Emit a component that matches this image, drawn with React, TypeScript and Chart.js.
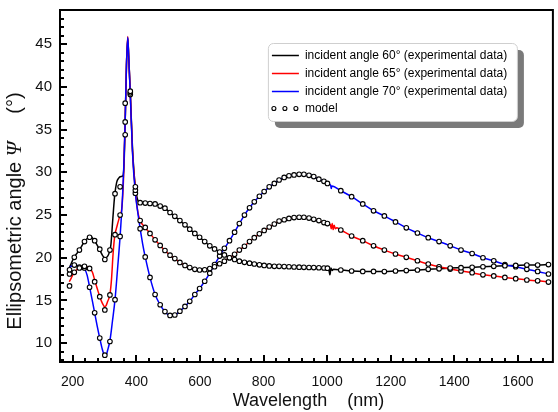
import React, { useEffect, useRef } from 'react';
import { Chart, registerables } from 'chart.js';

Chart.register(...registerables);

const FONT = 'Arial, "Liberation Sans", Helvetica, sans-serif';

// ---- axis ticks ----
const xTickValues = [200, 400, 600, 800, 1000, 1200, 1400, 1600];
const yTickValues = [10, 15, 20, 25, 30, 35, 40, 45];

// ---- legend labels ----
const seriesLabels = [
  'incident angle 60° (experimental data)',
  'incident angle 65° (experimental data)',
  'incident angle 70° (experimental data)',
];
const modelLabel = 'model';

// ---- model (open circles) ----
const modelWl = [
  190, 205, 221, 237, 253, 269, 285, 301, 317, 333, 349, 365, 381, 397,
  412, 428, 443, 459, 475, 490, 506, 521, 537, 553, 568, 584, 599, 615, 631, 646,
  662, 677, 693, 709, 724, 740, 756, 771, 787, 802, 818, 834, 849, 865, 880, 896,
  912, 927, 943, 958, 974, 990, 1001,
  1043, 1077, 1112, 1146, 1180, 1215, 1249, 1284, 1318, 1352, 1387, 1421, 1456,
  1490, 1524, 1559, 1593, 1628, 1662, 1696,
];
const model60 = [
  18.6, 20.05, 20.9, 21.9, 22.4, 22.0, 21.0, 19.8, 20.9, 27.5, 28.3, 38.1, 39.5, 28.3,
  26.45, 26.4, 26.35, 26.3, 26.05, 25.8, 25.3, 24.85, 24.35, 23.85, 23.35, 22.85, 22.4, 21.9, 21.4, 21.03,
  20.67, 20.33, 20.0, 19.8, 19.6, 19.47, 19.37, 19.27, 19.17, 19.1, 19.05, 19.0, 19.0, 18.97, 18.95, 18.92,
  18.9, 18.88, 18.86, 18.85, 18.83, 18.8, 18.78,
  18.57, 18.45, 18.4, 18.4, 18.38, 18.45, 18.5, 18.57, 18.65, 18.7, 18.8, 18.84, 18.88,
  18.95, 19.0, 19.07, 19.1, 19.15, 19.15, 19.2,
];
const model65 = [
  16.7, 18.3, 18.8, 19.0, 18.75, 17.2, 15.45, 13.9, 15.65, 22.7, 25.0, 35.9, 39.3, 27.9,
  24.35, 23.55, 22.85, 22.1, 21.45, 20.85, 20.3, 19.9, 19.45, 19.1, 18.85, 18.65, 18.57, 18.6, 18.73, 18.95,
  19.3, 19.6, 20.0, 20.4, 20.9, 21.35, 21.9, 22.35, 22.8, 23.2, 23.6, 23.95, 24.3, 24.45, 24.6, 24.7,
  24.74, 24.74, 24.64, 24.5, 24.35, 24.12, 24.0,
  23.25, 22.55, 22.0, 21.4, 20.9, 20.44, 20.05, 19.65, 19.27, 18.95, 18.68, 18.45, 18.25,
  18.0, 17.87, 17.7, 17.55, 17.4, 17.3, 17.16,
];
const model70 = [
  18.1, 19.15, 18.9, 18.8, 16.55, 13.55, 10.6, 8.6, 10.2, 15.1, 22.5, 34.4, 39.1, 27.55,
  23.4, 20.1, 17.7, 15.7, 14.5, 13.7, 13.25, 13.3, 13.75, 14.3, 14.9, 15.7, 16.4, 17.25, 18.2, 19.2,
  20.2, 21.1, 22.0, 23.0, 24.0, 25.0, 25.85, 26.55, 27.2, 27.75, 28.3, 28.7, 29.1, 29.4, 29.6, 29.7,
  29.77, 29.77, 29.65, 29.5, 29.2, 28.95, 28.7,
  27.85, 27.15, 26.3, 25.5, 24.9, 24.2, 23.5, 22.9, 22.35, 21.9, 21.4, 20.9, 20.5,
  20.0, 19.65, 19.2, 18.95, 18.65, 18.4, 18.1,
];

// ---- experimental lines: UV part (up to ~405 nm) ----
const uvWl60 = [189, 195, 205, 221, 237, 250, 256, 265, 275, 285, 295, 302, 308, 315, 320, 326, 332, 338, 344, 352, 358, 362, 365, 369, 373, 376, 381, 388, 397, 405];
const uv60 = [18.8, 19.3, 20.1, 20.9, 21.9, 22.4, 22.45, 22.2, 21.6, 20.9, 20.2, 19.95, 20.1, 20.6, 21.5, 24.5, 27.3, 28.8, 29.3, 29.5, 29.6, 31.5, 36, 42.5, 45.7, 43.6, 39.4, 32.8, 28.3, 26.7];
const uvWl65 = [189, 195, 205, 221, 237, 253, 262, 269, 277, 285, 293, 300, 305, 310, 317, 322, 327, 332, 340, 348, 355, 360, 365, 369, 373, 376, 381, 388, 397, 405];
const uv65 = [17.2, 17.6, 18.3, 18.85, 19.0, 18.75, 18.3, 17.4, 16.4, 15.45, 14.7, 14.3, 14.4, 14.9, 15.7, 17.5, 20.5, 22.5, 23.8, 24.9, 26.0, 29.5, 36, 42.5, 45.9, 43.6, 39.3, 32.5, 27.9, 25.3];
const uvWl70 = [189, 195, 205, 221, 237, 245, 253, 261, 269, 277, 285, 293, 301, 305, 310, 317, 325, 333, 341, 349, 357, 361, 365, 369, 373, 376, 381, 388, 397, 405, 420];
const uv70 = [18.8, 19.0, 19.15, 19.0, 18.7, 18.0, 16.6, 15.1, 13.55, 12.0, 10.6, 9.3, 8.55, 8.6, 9.2, 10.3, 12.6, 15.1, 18.7, 22.5, 27.5, 31, 36, 42.5, 45.8, 43.6, 39.2, 32.3, 27.55, 25.2, 21.6];

// ---- measurement noise spikes ----
const noiseWl60 = [1004, 1007, 1009, 1012, 1016, 1020];
const noise60 = [18.8, 18.3, 18.0, 18.8, 18.5, 18.65];
const noiseWl65 = [1010, 1013, 1016, 1019, 1022, 1026, 1030];
const noise65 = [23.9, 23.4, 24.0, 23.3, 23.8, 23.4, 23.5];
const noiseWl70 = [952, 954, 956, 1011, 1013, 1015];
const noise70 = [29.65, 29.3, 29.6, 28.5, 28.1, 28.4];

const COLORS = ['#000000', '#ff0000', '#0000ff'];

function pairs(xs: number[], ys: number[]) {
  return xs.map((x, i) => ({ x, y: ys[i] }));
}

function buildLine(uvWl: number[], uv: number[], model: number[], nWl: number[], n: number[]) {
  const lastUv = uvWl[uvWl.length - 1];
  const pts = [
    ...pairs(uvWl, uv),
    ...pairs(modelWl, model).filter((p) => p.x > lastUv),
    ...pairs(nWl, n),
  ];
  pts.sort((a, b) => a.x - b.x);
  return pts;
}

const framePlugin = {
  id: 'frameTicks',
  afterDatasetsDraw(chart: any) {
    const { ctx, chartArea, scales } = chart;
    const { left, right, top, bottom } = chartArea;
    const xs = scales.x;
    const ys = scales.y;
    ctx.save();
    ctx.strokeStyle = '#000';
    ctx.lineWidth = 2;
    ctx.lineCap = 'butt';
    ctx.beginPath();
    for (let v = 200; v <= 1700; v += 40) {
      const px = Math.round(xs.getPixelForValue(v));
      const major = v % 200 === 0;
      ctx.moveTo(px, bottom);
      ctx.lineTo(px, bottom - (major ? 7 : 4));
    }
    for (let v = 8; v <= 48; v += 1) {
      const py = Math.round(ys.getPixelForValue(v));
      const major = v % 5 === 0;
      ctx.moveTo(left, py);
      ctx.lineTo(left + (major ? 7 : 4), py);
    }
    ctx.stroke();
    ctx.strokeRect(left, top, right - left, bottom - top);
    ctx.restore();
  },
  afterDraw(chart: any) {
    const { ctx, chartArea } = chart;
    const { left, right, top, bottom } = chartArea;
    ctx.save();
    ctx.fillStyle = '#111';
    ctx.font = `18px ${FONT}`;
    ctx.textAlign = 'center';
    ctx.textBaseline = 'middle';
    ctx.fillText('Wavelength    (nm)', (left + right) / 2 + 2, bottom + 39);

    const segs: [string, string][] = [
      ['Ellipsometric angle ', `20px ${FONT}`],
      ['\u03A8', 'italic 21px "Liberation Serif", "DejaVu Serif", serif'],
      ['     (\u00B0)', `20px ${FONT}`],
    ];
    let total = 0;
    const widths = segs.map(([t, f]) => {
      ctx.font = f;
      const w = ctx.measureText(t).width;
      total += w;
      return w;
    });
    ctx.translate(15, top + 201);
    ctx.rotate(-Math.PI / 2);
    ctx.textAlign = 'left';
    let cx = -total / 2;
    segs.forEach(([t, f], i) => {
      ctx.font = f;
      ctx.fillText(t, cx, 0);
      cx += widths[i];
    });
    ctx.restore();

    // legend box
    const bx = right - 285;
    const by = top + 33;
    const bw = 249;
    const bh = 78;
    ctx.save();
    ctx.fillStyle = '#7a7a7a';
    ctx.beginPath();
    ctx.roundRect(bx + 7, by + 7, bw, bh, 5);
    ctx.fill();
    ctx.fillStyle = '#ffffff';
    ctx.strokeStyle = '#cfcfcf';
    ctx.lineWidth = 1;
    ctx.beginPath();
    ctx.roundRect(bx + 0.5, by + 0.5, bw, bh, 5);
    ctx.fill();
    ctx.stroke();
    ctx.font = `12px ${FONT}`;
    ctx.textBaseline = 'middle';
    ctx.textAlign = 'left';
    seriesLabels.forEach((lab, i) => {
      const ry = by + 12.5 + i * 18;
      ctx.strokeStyle = COLORS[i];
      ctx.lineWidth = 1.5;
      ctx.beginPath();
      ctx.moveTo(bx + 4, ry);
      ctx.lineTo(bx + 31, ry);
      ctx.stroke();
      ctx.fillStyle = '#000';
      ctx.fillText(lab, bx + 37, ry);
    });
    const my = by + 12.5 + 3 * 18 - 1;
    ctx.strokeStyle = '#000';
    ctx.lineWidth = 1.1;
    [6, 17, 28].forEach((dx) => {
      ctx.beginPath();
      ctx.arc(bx + dx, my, 2, 0, Math.PI * 2);
      ctx.stroke();
    });
    ctx.fillStyle = '#000';
    ctx.fillText(modelLabel, bx + 37, my);
    ctx.restore();
  },
};

function zeroPad(s: any) {
  s.paddingTop = 0;
  s.paddingBottom = 0;
  s.paddingLeft = 0;
  s.paddingRight = 0;
}

export default function App() {
  const ref = useRef<HTMLCanvasElement>(null);
  useEffect(() => {
    const modelDs = (data: number[], i: number) => ({
      label: `model${i}`,
      data: pairs(modelWl, data),
      showLine: false,
      pointRadius: 2.3,
      pointBorderWidth: 1.1,
      pointBorderColor: '#000',
      pointBackgroundColor: '#ffffff',
      pointStyle: 'circle',
    });
    const lineDs = (data: any[], i: number) => ({
      label: seriesLabels[i],
      data,
      borderColor: COLORS[i],
      borderWidth: 1.5,
      pointRadius: 0,
      fill: false,
      cubicInterpolationMode: 'monotone',
    });
    const line60 = buildLine(uvWl60, uv60, model60, noiseWl60, noise60);
    const line65 = buildLine(uvWl65, uv65, model65, noiseWl65, noise65);
    const line70 = buildLine(uvWl70, uv70, model70, noiseWl70, noise70);

    const chart = new Chart(ref.current as HTMLCanvasElement, {
      type: 'line',
      data: {
        datasets: [
          modelDs(model60, 0),
          modelDs(model65, 1),
          modelDs(model70, 2),
          lineDs(line70, 2),
          lineDs(line65, 1),
          lineDs(line60, 0),
        ] as any,
      },
      options: {
        animation: false,
        responsive: false,
        devicePixelRatio: 1,
        layout: { padding: { left: 0, right: 2, top: 10, bottom: 0 } },
        plugins: { legend: { display: false }, tooltip: { enabled: false } },
        scales: {
          x: {
            type: 'linear',
            min: 160,
            max: 1710,
            grid: { display: false, drawTicks: false },
            border: { display: false },
            ticks: {
              padding: 12,
              color: '#111',
              font: { family: FONT, size: 14 },
              maxRotation: 0,
              autoSkip: false,
              callback: (v: any) => String(v),
            },
            afterBuildTicks: (s: any) => {
              s.ticks = xTickValues.map((v) => ({ value: v }));
            },
            afterFit: (s: any) => {
              s.height = 50;
              zeroPad(s);
            },
          },
          y: {
            type: 'linear',
            min: 7.8,
            max: 49,
            grid: { display: false, drawTicks: false },
            border: { display: false },
            ticks: {
              padding: 8,
              color: '#111',
              font: { family: FONT, size: 15 },
              autoSkip: false,
              callback: (v: any) => String(v),
            },
            afterBuildTicks: (s: any) => {
              s.ticks = yTickValues.map((v) => ({ value: v }));
            },
            afterFit: (s: any) => {
              s.width = 60;
              zeroPad(s);
            },
          },
        },
      } as any,
      plugins: [framePlugin],
    });
    return () => chart.destroy();
  }, []);
  return (
    <canvas
      ref={ref}
      width={558}
      height={412}
      style={{ position: 'absolute', left: 0, top: 0, display: 'block' }}
    />
  );
}
